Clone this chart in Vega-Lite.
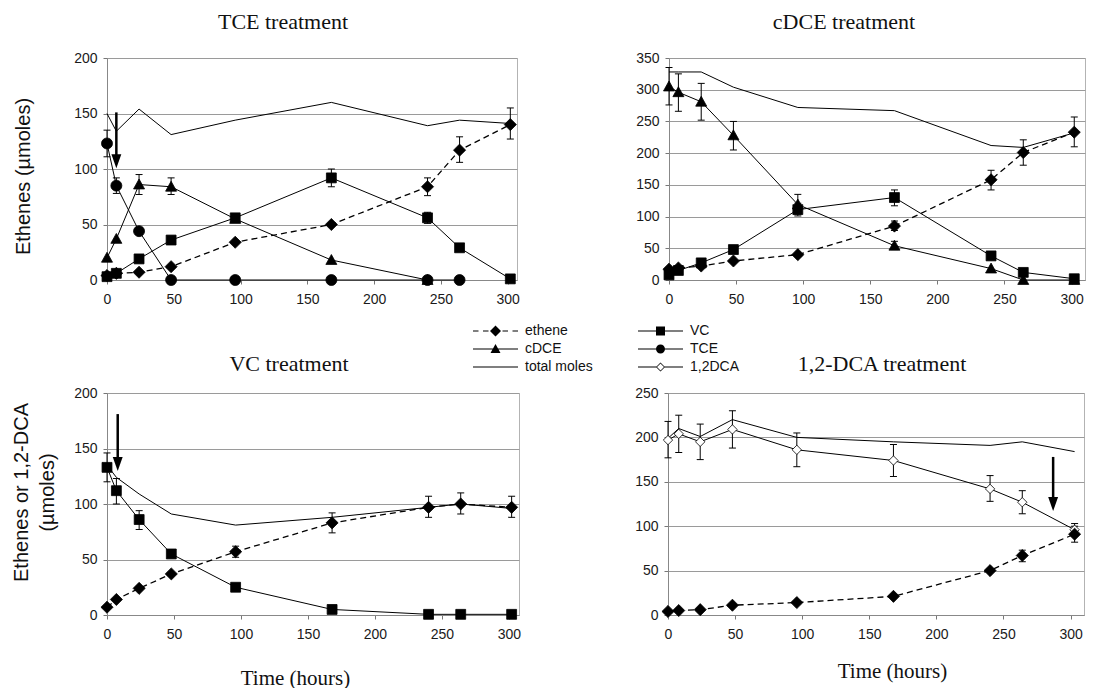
{
  "$schema": "https://vega.github.io/schema/vega-lite/v6.json",
  "padding": {"left": 5, "top": 10, "right": 0, "bottom": 0},
  "datasets": {
    "pts": [
      {"p":"TCE","s":"TCE","t":0,"v":123,"lo":111,"hi":135},
      {"p":"TCE","s":"TCE","t":7,"v":85,"lo":78,"hi":92},
      {"p":"TCE","s":"TCE","t":24,"v":44},
      {"p":"TCE","s":"TCE","t":48,"v":0},
      {"p":"TCE","s":"TCE","t":96,"v":0},
      {"p":"TCE","s":"TCE","t":168,"v":0},
      {"p":"TCE","s":"TCE","t":240,"v":0},
      {"p":"TCE","s":"TCE","t":264,"v":0},
      {"p":"TCE","s":"cDCE","t":0,"v":20},
      {"p":"TCE","s":"cDCE","t":7,"v":37},
      {"p":"TCE","s":"cDCE","t":24,"v":86,"lo":77,"hi":95},
      {"p":"TCE","s":"cDCE","t":48,"v":84,"lo":77,"hi":92},
      {"p":"TCE","s":"cDCE","t":96,"v":55},
      {"p":"TCE","s":"cDCE","t":168,"v":18},
      {"p":"TCE","s":"cDCE","t":240,"v":0},
      {"p":"TCE","s":"VC","t":0,"v":3},
      {"p":"TCE","s":"VC","t":7,"v":6},
      {"p":"TCE","s":"VC","t":24,"v":19},
      {"p":"TCE","s":"VC","t":48,"v":36},
      {"p":"TCE","s":"VC","t":96,"v":56},
      {"p":"TCE","s":"VC","t":168,"v":92,"lo":84,"hi":100},
      {"p":"TCE","s":"VC","t":240,"v":56,"lo":51,"hi":61},
      {"p":"TCE","s":"VC","t":264,"v":29},
      {"p":"TCE","s":"VC","t":302,"v":1},
      {"p":"TCE","s":"ethene","t":0,"v":4},
      {"p":"TCE","s":"ethene","t":7,"v":6},
      {"p":"TCE","s":"ethene","t":24,"v":7},
      {"p":"TCE","s":"ethene","t":48,"v":12},
      {"p":"TCE","s":"ethene","t":96,"v":34},
      {"p":"TCE","s":"ethene","t":168,"v":50},
      {"p":"TCE","s":"ethene","t":240,"v":84,"lo":76,"hi":92},
      {"p":"TCE","s":"ethene","t":264,"v":117,"lo":106,"hi":129},
      {"p":"TCE","s":"ethene","t":302,"v":140,"lo":127,"hi":155},
      {"p":"TCE","s":"total moles","t":0,"v":150},
      {"p":"TCE","s":"total moles","t":7,"v":134},
      {"p":"TCE","s":"total moles","t":24,"v":154},
      {"p":"TCE","s":"total moles","t":48,"v":131},
      {"p":"TCE","s":"total moles","t":96,"v":144},
      {"p":"TCE","s":"total moles","t":168,"v":160},
      {"p":"TCE","s":"total moles","t":240,"v":139},
      {"p":"TCE","s":"total moles","t":264,"v":144},
      {"p":"TCE","s":"total moles","t":302,"v":141},

      {"p":"cDCE","s":"cDCE","t":0,"v":305,"lo":276,"hi":335},
      {"p":"cDCE","s":"cDCE","t":7,"v":296,"lo":266,"hi":325},
      {"p":"cDCE","s":"cDCE","t":24,"v":281,"lo":252,"hi":310},
      {"p":"cDCE","s":"cDCE","t":48,"v":228,"lo":205,"hi":250},
      {"p":"cDCE","s":"cDCE","t":96,"v":119,"lo":104,"hi":135},
      {"p":"cDCE","s":"cDCE","t":168,"v":54,"lo":48,"hi":61},
      {"p":"cDCE","s":"cDCE","t":240,"v":18},
      {"p":"cDCE","s":"cDCE","t":264,"v":0},
      {"p":"cDCE","s":"cDCE","t":302,"v":0},
      {"p":"cDCE","s":"VC","t":0,"v":8},
      {"p":"cDCE","s":"VC","t":7,"v":15},
      {"p":"cDCE","s":"VC","t":24,"v":27},
      {"p":"cDCE","s":"VC","t":48,"v":48},
      {"p":"cDCE","s":"VC","t":96,"v":111,"lo":101,"hi":121},
      {"p":"cDCE","s":"VC","t":168,"v":130,"lo":117,"hi":142},
      {"p":"cDCE","s":"VC","t":240,"v":38},
      {"p":"cDCE","s":"VC","t":264,"v":12},
      {"p":"cDCE","s":"VC","t":302,"v":2},
      {"p":"cDCE","s":"ethene","t":0,"v":17},
      {"p":"cDCE","s":"ethene","t":7,"v":19},
      {"p":"cDCE","s":"ethene","t":24,"v":22},
      {"p":"cDCE","s":"ethene","t":48,"v":30},
      {"p":"cDCE","s":"ethene","t":96,"v":40},
      {"p":"cDCE","s":"ethene","t":168,"v":85,"lo":78,"hi":93},
      {"p":"cDCE","s":"ethene","t":240,"v":158,"lo":142,"hi":173},
      {"p":"cDCE","s":"ethene","t":264,"v":201,"lo":181,"hi":221},
      {"p":"cDCE","s":"ethene","t":302,"v":233,"lo":210,"hi":257},
      {"p":"cDCE","s":"total moles","t":0,"v":328},
      {"p":"cDCE","s":"total moles","t":7,"v":328},
      {"p":"cDCE","s":"total moles","t":24,"v":328},
      {"p":"cDCE","s":"total moles","t":48,"v":304},
      {"p":"cDCE","s":"total moles","t":96,"v":272},
      {"p":"cDCE","s":"total moles","t":168,"v":267},
      {"p":"cDCE","s":"total moles","t":240,"v":212},
      {"p":"cDCE","s":"total moles","t":264,"v":209},
      {"p":"cDCE","s":"total moles","t":302,"v":232},

      {"p":"VC","s":"VC","t":0,"v":133,"lo":120,"hi":146},
      {"p":"VC","s":"VC","t":7,"v":112,"lo":100,"hi":123},
      {"p":"VC","s":"VC","t":24,"v":86,"lo":77,"hi":94},
      {"p":"VC","s":"VC","t":48,"v":55,"lo":52,"hi":58},
      {"p":"VC","s":"VC","t":96,"v":25},
      {"p":"VC","s":"VC","t":168,"v":5},
      {"p":"VC","s":"VC","t":240,"v":0.6},
      {"p":"VC","s":"VC","t":264,"v":0.6},
      {"p":"VC","s":"VC","t":302,"v":0.6},
      {"p":"VC","s":"ethene","t":0,"v":7},
      {"p":"VC","s":"ethene","t":7,"v":14},
      {"p":"VC","s":"ethene","t":24,"v":24},
      {"p":"VC","s":"ethene","t":48,"v":37},
      {"p":"VC","s":"ethene","t":96,"v":57,"lo":52,"hi":62},
      {"p":"VC","s":"ethene","t":168,"v":83,"lo":74,"hi":92},
      {"p":"VC","s":"ethene","t":240,"v":97,"lo":88,"hi":107},
      {"p":"VC","s":"ethene","t":264,"v":100,"lo":91,"hi":110},
      {"p":"VC","s":"ethene","t":302,"v":97,"lo":88,"hi":107},
      {"p":"VC","s":"total moles","t":0,"v":135},
      {"p":"VC","s":"total moles","t":7,"v":124},
      {"p":"VC","s":"total moles","t":24,"v":109},
      {"p":"VC","s":"total moles","t":48,"v":91},
      {"p":"VC","s":"total moles","t":96,"v":81},
      {"p":"VC","s":"total moles","t":168,"v":88},
      {"p":"VC","s":"total moles","t":240,"v":97},
      {"p":"VC","s":"total moles","t":264,"v":100},
      {"p":"VC","s":"total moles","t":302,"v":96},

      {"p":"DCA","s":"1,2DCA","t":0,"v":197,"lo":177,"hi":218},
      {"p":"DCA","s":"1,2DCA","t":8,"v":204,"lo":183,"hi":225},
      {"p":"DCA","s":"1,2DCA","t":24,"v":195,"lo":175,"hi":215},
      {"p":"DCA","s":"1,2DCA","t":48,"v":209,"lo":188,"hi":230},
      {"p":"DCA","s":"1,2DCA","t":96,"v":186,"lo":167,"hi":205},
      {"p":"DCA","s":"1,2DCA","t":168,"v":174,"lo":156,"hi":192},
      {"p":"DCA","s":"1,2DCA","t":240,"v":142,"lo":128,"hi":157},
      {"p":"DCA","s":"1,2DCA","t":264,"v":127,"lo":114,"hi":140},
      {"p":"DCA","s":"1,2DCA","t":303,"v":96,"lo":89,"hi":103},
      {"p":"DCA","s":"ethene","t":0,"v":4},
      {"p":"DCA","s":"ethene","t":8,"v":5},
      {"p":"DCA","s":"ethene","t":24,"v":6},
      {"p":"DCA","s":"ethene","t":48,"v":11},
      {"p":"DCA","s":"ethene","t":96,"v":14},
      {"p":"DCA","s":"ethene","t":168,"v":21},
      {"p":"DCA","s":"ethene","t":240,"v":50},
      {"p":"DCA","s":"ethene","t":264,"v":67,"lo":60,"hi":73},
      {"p":"DCA","s":"ethene","t":303,"v":91,"lo":82,"hi":100},
      {"p":"DCA","s":"total moles","t":0,"v":199},
      {"p":"DCA","s":"total moles","t":8,"v":210},
      {"p":"DCA","s":"total moles","t":24,"v":201},
      {"p":"DCA","s":"total moles","t":48,"v":220},
      {"p":"DCA","s":"total moles","t":96,"v":200},
      {"p":"DCA","s":"total moles","t":168,"v":195},
      {"p":"DCA","s":"total moles","t":240,"v":191},
      {"p":"DCA","s":"total moles","t":264,"v":195},
      {"p":"DCA","s":"total moles","t":303,"v":184}
    ],
    "arr": [
      {"p":"TCE","t":7,"top":151,"head":107},
      {"p":"VC","t":8,"top":181,"head":136},
      {"p":"DCA","t":287,"top":178,"head":125}
    ]
  },
  "vconcat": [
    {
      "spacing": 115,
      "hconcat": [
        {
          "width": 410, "height": 222,
          "title": {"text": "TCE treatment", "frame": "group", "dx": -29, "offset": 17},
          "data": {"name": "pts"},
          "transform": [{"filter": "datum.p === 'TCE'"}],
          "encoding": {
            "x": {"field": "t", "type": "quantitative", "scale": {"domain": [0, 307], "nice": false, "zero": false}, "axis": {"values": [0,50,100,150,200,250,300], "title": null}},
            "y": {"field": "v", "type": "quantitative", "scale": {"domain": [0, 200], "nice": false}, "axis": {"values": [0,50,100,150,200], "title": ["", "Ethenes (µmoles)"], "titleLineHeight": 8, "titlePadding": 40, "titleY": 118}}
          },
          "layer": [
            {"transform": [{"filter": "datum.t < 0"}],
             "mark": {"type": "point", "filled": true, "opacity": 0, "color": "black", "fill": "black", "size": 100},
             "encoding": {"shape": {"field": "s", "type": "nominal",
               "scale": {"domain": ["ethene","cDCE","total moles","VC","TCE","1,2DCA"],
                 "range": ["M-1,-0.1H0.1V0.1H-1ZM1,-0.1H2.1V0.1H1ZM4.9,-0.1H6V0.1H4.9ZM6.9,-0.1H8V0.1H6.9ZM3.5,-1.1L4.6,0L3.5,1.1L2.4,0Z",
                           "M-1,-0.1H8V0.1H-1ZM3.5,-1L4.5,0.8H2.5Z",
                           "M-1,-0.1H8V0.1H-1Z",
                           "M-1,-0.1H8V0.1H-1ZM2.6,-0.9H4.4V0.9H2.6Z",
                           "M-1,-0.1H8V0.1H-1ZM2.6,0A0.9,0.9,0,1,1,4.4,0A0.9,0.9,0,1,1,2.6,0Z",
                           "M-1,-0.1H2.65V0.1H-1ZM4.35,-0.1H8V0.1H4.35ZM3.5,-0.9L4.4,0L3.5,0.9L2.6,0ZM3.5,-0.7L2.8,0L3.5,0.7L4.2,0Z"]},
               "legend": {"orient": "none", "legendX": 364, "legendY": 266, "title": null, "columns": 2, "columnPadding": 43, "rowPadding": 4, "padding": 0, "symbolSize": 100, "symbolOpacity": 1, "symbolStrokeWidth": 0, "labelOffset": 40, "labelFont": "Liberation Sans", "labelFontSize": 14, "labelColor": "#111", "labelLimit": 200}}}},
            {"transform": [{"filter": "datum.s !== 'ethene'"}], "mark": {"type": "line", "color": "black", "strokeWidth": 1}, "encoding": {"detail": {"field": "s"}}},
            {"transform": [{"filter": "datum.s === 'ethene'"}], "mark": {"type": "line", "color": "black", "strokeWidth": 1.3, "strokeDash": [6, 4]}},
            {"transform": [{"filter": "isValid(datum.lo)"}], "mark": {"type": "rule", "color": "black", "strokeWidth": 1}, "encoding": {"y": {"field": "lo", "type": "quantitative"}, "y2": {"field": "hi"}}},
            {"transform": [{"filter": "isValid(datum.lo)"}], "mark": {"type": "tick", "orient": "horizontal", "color": "black", "size": 7, "thickness": 1, "opacity": 1}, "encoding": {"y": {"field": "lo", "type": "quantitative"}}},
            {"transform": [{"filter": "isValid(datum.hi)"}], "mark": {"type": "tick", "orient": "horizontal", "color": "black", "size": 7, "thickness": 1, "opacity": 1}, "encoding": {"y": {"field": "hi", "type": "quantitative"}}},
            {"transform": [{"filter": "datum.s !== 'total moles'"}], "mark": {"type": "point", "filled": true, "opacity": 1, "stroke": "black", "strokeWidth": 0.8, "size": 121},
             "encoding": {
               "fill": {"condition": {"test": "datum.s === '1,2DCA'", "value": "white"}, "value": "black"},
               "shape": {"condition": [
                 {"test": "datum.s === 'TCE'", "value": "circle"},
                 {"test": "datum.s === 'VC'", "value": "M-0.9,-0.9H0.9V0.9H-0.9Z"},
                 {"test": "datum.s === 'cDCE'", "value": "M0,-1L1,0.8H-1Z"},
                 {"test": "datum.s === '1,2DCA'", "value": "M0,-0.85L0.85,0L0,0.85L-0.85,0Z"}
               ], "value": "M0,-1.1L1.1,0L0,1.1L-1.1,0Z"}
             }},
            {"data": {"name": "arr"}, "transform": [{"filter": "datum.p === 'TCE'"}], "mark": {"type": "rule", "color": "black", "strokeWidth": 2.5}, "encoding": {"y": {"field": "top", "type": "quantitative"}, "y2": {"field": "head"}}},
            {"data": {"name": "arr"}, "transform": [{"filter": "datum.p === 'TCE'"}], "mark": {"type": "point", "filled": true, "opacity": 1, "color": "black", "shape": "M-0.7,-1L0.7,-1L0,1Z", "size": 200}, "encoding": {"y": {"field": "head", "type": "quantitative"}}}
          ]
        },
        {
          "width": 416, "height": 222,
          "title": {"text": "cDCE treatment", "frame": "group", "dx": -33, "offset": 17},
          "data": {"name": "pts"},
          "transform": [{"filter": "datum.p === 'cDCE'"}],
          "encoding": {
            "x": {"field": "t", "type": "quantitative", "scale": {"domain": [0, 310], "nice": false, "zero": false}, "axis": {"values": [0,50,100,150,200,250,300], "title": null}},
            "y": {"field": "v", "type": "quantitative", "scale": {"domain": [0, 350], "nice": false}, "axis": {"values": [0,50,100,150,200,250,300,350], "title": null}}
          },
          "layer": [
            {"transform": [{"filter": "datum.s !== 'ethene'"}], "mark": {"type": "line", "color": "black", "strokeWidth": 1}, "encoding": {"detail": {"field": "s"}}},
            {"transform": [{"filter": "datum.s === 'ethene'"}], "mark": {"type": "line", "color": "black", "strokeWidth": 1.3, "strokeDash": [6, 4]}},
            {"transform": [{"filter": "isValid(datum.lo)"}], "mark": {"type": "rule", "color": "black", "strokeWidth": 1}, "encoding": {"y": {"field": "lo", "type": "quantitative"}, "y2": {"field": "hi"}}},
            {"transform": [{"filter": "isValid(datum.lo)"}], "mark": {"type": "tick", "orient": "horizontal", "color": "black", "size": 7, "thickness": 1, "opacity": 1}, "encoding": {"y": {"field": "lo", "type": "quantitative"}}},
            {"transform": [{"filter": "isValid(datum.hi)"}], "mark": {"type": "tick", "orient": "horizontal", "color": "black", "size": 7, "thickness": 1, "opacity": 1}, "encoding": {"y": {"field": "hi", "type": "quantitative"}}},
            {"transform": [{"filter": "datum.s !== 'total moles'"}], "mark": {"type": "point", "filled": true, "opacity": 1, "stroke": "black", "strokeWidth": 0.8, "size": 121},
             "encoding": {
               "fill": {"condition": {"test": "datum.s === '1,2DCA'", "value": "white"}, "value": "black"},
               "shape": {"condition": [
                 {"test": "datum.s === 'TCE'", "value": "circle"},
                 {"test": "datum.s === 'VC'", "value": "M-0.9,-0.9H0.9V0.9H-0.9Z"},
                 {"test": "datum.s === 'cDCE'", "value": "M0,-1L1,0.8H-1Z"},
                 {"test": "datum.s === '1,2DCA'", "value": "M0,-0.85L0.85,0L0,0.85L-0.85,0Z"}
               ], "value": "M0,-1.1L1.1,0L0,1.1L-1.1,0Z"}
             }}
          ]
        }
      ]
    },
    {
      "spacing": 112,
      "hconcat": [
        {
          "width": 412, "height": 222,
          "title": {"text": "VC treatment", "frame": "group", "dx": -24, "offset": 10},
          "data": {"name": "pts"},
          "transform": [{"filter": "datum.p === 'VC'"}],
          "encoding": {
            "x": {"field": "t", "type": "quantitative", "scale": {"domain": [0, 307.5], "nice": false, "zero": false}, "axis": {"values": [0,50,100,150,200,250,300], "title": "Time (hours)", "titleX": 188, "titlePadding": 26}},
            "y": {"field": "v", "type": "quantitative", "scale": {"domain": [0, 200], "nice": false}, "axis": {"values": [0,50,100,150,200], "title": ["Ethenes or 1,2-DCA", "(µmoles)"], "titleLineHeight": 26, "titlePadding": 16, "titleY": 99}}
          },
          "layer": [
            {"transform": [{"filter": "datum.s !== 'ethene'"}], "mark": {"type": "line", "color": "black", "strokeWidth": 1}, "encoding": {"detail": {"field": "s"}}},
            {"transform": [{"filter": "datum.s === 'ethene'"}], "mark": {"type": "line", "color": "black", "strokeWidth": 1.3, "strokeDash": [6, 4]}},
            {"transform": [{"filter": "isValid(datum.lo)"}], "mark": {"type": "rule", "color": "black", "strokeWidth": 1}, "encoding": {"y": {"field": "lo", "type": "quantitative"}, "y2": {"field": "hi"}}},
            {"transform": [{"filter": "isValid(datum.lo)"}], "mark": {"type": "tick", "orient": "horizontal", "color": "black", "size": 7, "thickness": 1, "opacity": 1}, "encoding": {"y": {"field": "lo", "type": "quantitative"}}},
            {"transform": [{"filter": "isValid(datum.hi)"}], "mark": {"type": "tick", "orient": "horizontal", "color": "black", "size": 7, "thickness": 1, "opacity": 1}, "encoding": {"y": {"field": "hi", "type": "quantitative"}}},
            {"transform": [{"filter": "datum.s !== 'total moles'"}], "mark": {"type": "point", "filled": true, "opacity": 1, "stroke": "black", "strokeWidth": 0.8, "size": 121},
             "encoding": {
               "fill": {"condition": {"test": "datum.s === '1,2DCA'", "value": "white"}, "value": "black"},
               "shape": {"condition": [
                 {"test": "datum.s === 'TCE'", "value": "circle"},
                 {"test": "datum.s === 'VC'", "value": "M-0.9,-0.9H0.9V0.9H-0.9Z"},
                 {"test": "datum.s === 'cDCE'", "value": "M0,-1L1,0.8H-1Z"},
                 {"test": "datum.s === '1,2DCA'", "value": "M0,-0.85L0.85,0L0,0.85L-0.85,0Z"}
               ], "value": "M0,-1.1L1.1,0L0,1.1L-1.1,0Z"}
             }},
            {"data": {"name": "arr"}, "transform": [{"filter": "datum.p === 'VC'"}], "mark": {"type": "rule", "color": "black", "strokeWidth": 2.5}, "encoding": {"y": {"field": "top", "type": "quantitative"}, "y2": {"field": "head"}}},
            {"data": {"name": "arr"}, "transform": [{"filter": "datum.p === 'VC'"}], "mark": {"type": "point", "filled": true, "opacity": 1, "color": "black", "shape": "M-0.7,-1L0.7,-1L0,1Z", "size": 200}, "encoding": {"y": {"field": "head", "type": "quantitative"}}}
          ]
        },
        {
          "width": 416, "height": 222,
          "title": {"text": "1,2-DCA treatment", "frame": "group", "dx": 6, "offset": 10},
          "data": {"name": "pts"},
          "transform": [{"filter": "datum.p === 'DCA'"}],
          "encoding": {
            "x": {"field": "t", "type": "quantitative", "scale": {"domain": [0, 310], "nice": false, "zero": false}, "axis": {"values": [0,50,100,150,200,250,300], "title": "Time (hours)", "titleX": 224, "titlePadding": 19}},
            "y": {"field": "v", "type": "quantitative", "scale": {"domain": [0, 250], "nice": false}, "axis": {"values": [0,50,100,150,200,250], "title": null}}
          },
          "layer": [
            {"transform": [{"filter": "datum.s !== 'ethene'"}], "mark": {"type": "line", "color": "black", "strokeWidth": 1}, "encoding": {"detail": {"field": "s"}}},
            {"transform": [{"filter": "datum.s === 'ethene'"}], "mark": {"type": "line", "color": "black", "strokeWidth": 1.3, "strokeDash": [6, 4]}},
            {"transform": [{"filter": "isValid(datum.lo)"}], "mark": {"type": "rule", "color": "black", "strokeWidth": 1}, "encoding": {"y": {"field": "lo", "type": "quantitative"}, "y2": {"field": "hi"}}},
            {"transform": [{"filter": "isValid(datum.lo)"}], "mark": {"type": "tick", "orient": "horizontal", "color": "black", "size": 7, "thickness": 1, "opacity": 1}, "encoding": {"y": {"field": "lo", "type": "quantitative"}}},
            {"transform": [{"filter": "isValid(datum.hi)"}], "mark": {"type": "tick", "orient": "horizontal", "color": "black", "size": 7, "thickness": 1, "opacity": 1}, "encoding": {"y": {"field": "hi", "type": "quantitative"}}},
            {"transform": [{"filter": "datum.s !== 'total moles'"}], "mark": {"type": "point", "filled": true, "opacity": 1, "stroke": "black", "strokeWidth": 0.8, "size": 121},
             "encoding": {
               "fill": {"condition": {"test": "datum.s === '1,2DCA'", "value": "white"}, "value": "black"},
               "shape": {"condition": [
                 {"test": "datum.s === 'TCE'", "value": "circle"},
                 {"test": "datum.s === 'VC'", "value": "M-0.9,-0.9H0.9V0.9H-0.9Z"},
                 {"test": "datum.s === 'cDCE'", "value": "M0,-1L1,0.8H-1Z"},
                 {"test": "datum.s === '1,2DCA'", "value": "M0,-0.85L0.85,0L0,0.85L-0.85,0Z"}
               ], "value": "M0,-1.1L1.1,0L0,1.1L-1.1,0Z"}
             }},
            {"data": {"name": "arr"}, "transform": [{"filter": "datum.p === 'DCA'"}], "mark": {"type": "rule", "color": "black", "strokeWidth": 2.5}, "encoding": {"y": {"field": "top", "type": "quantitative"}, "y2": {"field": "head"}}},
            {"data": {"name": "arr"}, "transform": [{"filter": "datum.p === 'DCA'"}], "mark": {"type": "point", "filled": true, "opacity": 1, "color": "black", "shape": "M-0.7,-1L0.7,-1L0,1Z", "size": 200}, "encoding": {"y": {"field": "head", "type": "quantitative"}}}
          ]
        }
      ]
    }
  ],
  "spacing": 45,
  "config": {
    "font": "Liberation Sans",
    "view": {"stroke": "#b3b3b3", "strokeWidth": 1},
    "axis": {"labelFont": "Liberation Sans", "labelFontSize": 14, "labelColor": "#1a1a1a", "labelFlush": false, "tickColor": "#777", "domainColor": "#888", "tickSize": 4, "labelPadding": 6, "gridColor": "#9a9a9a", "gridWidth": 1, "titleFontWeight": "normal", "titleColor": "#111"},
    "axisX": {"grid": false, "titleFont": "Liberation Serif", "titleFontSize": 21, "labelPadding": 8},
    "axisY": {"grid": true, "titleFont": "Liberation Sans", "titleFontSize": 20},
    "title": {"font": "Liberation Serif", "fontSize": 22, "fontWeight": "normal", "color": "#111"}
  }
}
